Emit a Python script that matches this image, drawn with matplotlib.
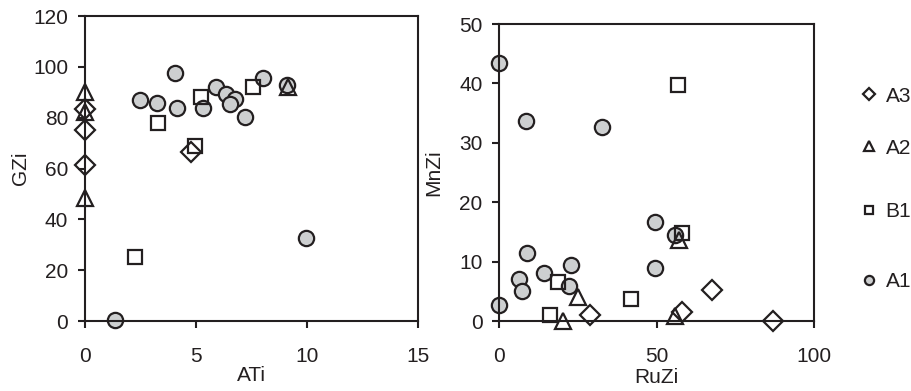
import matplotlib
matplotlib.use('Agg')
import matplotlib.pyplot as plt

plt.rcParams['font.family'] = ['Liberation Sans', 'DejaVu Sans']

# Левый график: ATi / GZi
a1_ati = [1.35, 2.47, 3.23, 4.05, 4.13, 5.33, 5.9, 6.35, 6.76, 6.53, 7.2, 8.03, 9.11, 9.97]
a1_gzi = [0.4, 87.0, 85.6, 97.7, 83.7, 83.7, 92.2, 89.2, 87.2, 85.4, 80.4, 95.5, 92.8, 32.5]
b1_ati = [2.25, 3.3, 5.21, 4.95, 7.55]
b1_gzi = [25.3, 77.8, 88.0, 68.8, 92.2]
a2_ati = [0.0, 0.0, 0.0, 9.16]
a2_gzi = [90.2, 82.3, 48.4, 92.0]
a3_ati = [0.0, 0.0, 0.0, 4.76]
a3_gzi = [83.3, 75.1, 61.4, 66.6]

# Правый график: RuZi / MnZi
a1_ruzi = [0.0, 8.5, 32.5, 8.9, 6.2, 7.3, 14.2, 22.8, 22.1, 0.0, 49.4, 49.4, 55.7]
a1_mnzi = [43.5, 33.7, 32.6, 11.5, 7.0, 5.1, 8.0, 9.4, 5.9, 2.7, 16.7, 8.9, 14.5]
b1_ruzi = [56.8, 18.7, 16.1, 41.7, 57.9]
b1_mnzi = [39.7, 6.5, 1.0, 3.7, 14.8]
a2_ruzi = [20.3, 25.1, 55.8, 57.0]
a2_mnzi = [0.05, 4.1, 0.9, 13.6]
a3_ruzi = [28.8, 57.9, 67.4, 87.0]
a3_mnzi = [1.0, 1.5, 5.2, 0.0]

labels = ['A3', 'A2', 'B1', 'A1']
# вертикальные позиции подписей легенды (доля высоты рисунка)
legend_y = [0.754, 0.621, 0.458, 0.279]

txt_color = '#231f20'
grey = '#cdcfd0'
fs = 15

fig = plt.figure(figsize=(9.12, 3.91), dpi=100)
ax1 = fig.add_axes([0.0932, 0.179, 0.3651, 0.780])
ax2 = fig.add_axes([0.5475, 0.179, 0.3454, 0.7596])


def draw(ax, a1, b1, a2, a3):
    hs = {}
    hs['A1'], = ax.plot(*a1, 'o', ms=11, mfc=grey, mec=txt_color, mew=1.6, ls='none', clip_on=False)
    hs['B1'], = ax.plot(*b1, 's', ms=10.5, mfc='none', mec=txt_color, mew=1.6, ls='none', clip_on=False)
    hs['A2'], = ax.plot(*a2, '^', ms=11.5, mfc='none', mec=txt_color, mew=1.6, ls='none', clip_on=False)
    hs['A3'], = ax.plot(*a3, 'D', ms=10.5, mfc='none', mec=txt_color, mew=1.6, ls='none', clip_on=False)
    for s in ax.spines.values():
        s.set_linewidth(1.5)
        s.set_color(txt_color)
    ax.tick_params(direction='out', length=5, width=1.5, color=txt_color,
                   labelsize=fs, labelcolor=txt_color)
    ax.tick_params(axis='x', pad=14)
    ax.tick_params(axis='y', pad=7)
    return hs


hs = draw(ax1, (a1_ati, a1_gzi), (b1_ati, b1_gzi), (a2_ati, a2_gzi), (a3_ati, a3_gzi))
ax1.set_xlim(0, 15)
ax1.set_ylim(0, 120)
ax1.set_xticks([0, 5, 10, 15])
ax1.set_yticks(range(0, 121, 20))
ax1.set_xlabel('ATi', fontsize=fs, color=txt_color, labelpad=0)
ax1.set_ylabel('GZi', fontsize=fs, color=txt_color)
ax1.yaxis.set_label_coords(-0.165, 0.5)

draw(ax2, (a1_ruzi, a1_mnzi), (b1_ruzi, b1_mnzi), (a2_ruzi, a2_mnzi), (a3_ruzi, a3_mnzi))
ax2.set_xlim(0, 100)
ax2.set_ylim(0, 50)
ax2.set_xticks([0, 50, 100])
ax2.set_yticks(range(0, 51, 10))
ax2.set_xlabel('RuZi', fontsize=fs, color=txt_color, labelpad=1)
ax2.set_ylabel('MnZi', fontsize=fs, color=txt_color)
ax2.yaxis.set_label_coords(-0.179, 0.5)

# легенда: отдельные записи, как в исходнике (неравные интервалы)
for lab, y in zip(labels, legend_y):
    leg = fig.legend([hs[lab]], [lab], loc='center left',
                     bbox_to_anchor=(0.946, y), frameon=False, fontsize=fs,
                     markerscale=0.6, handlelength=0.6, handletextpad=0.5,
                     borderpad=0, borderaxespad=0)
    for t in leg.get_texts():
        t.set_color(txt_color)

fig.savefig('out.png', dpi=100)
